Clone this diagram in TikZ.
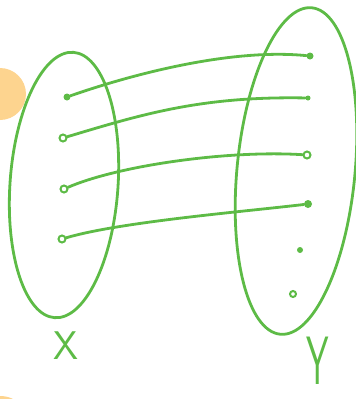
\documentclass[tikz,border=0pt]{standalone}
\usepackage{tikz}
\usetikzlibrary{arrows.meta,positioning}
\definecolor{inkgreen}{HTML}{5DBB46}
\definecolor{markorange}{HTML}{FDD48F}

\tikzset{
  dotfill/.style={circle, fill=inkgreen, inner sep=0pt, minimum size=7pt},
  dotring/.style={circle, draw=inkgreen, line width=2pt, inner sep=0pt, minimum size=7pt},
  wire/.style={line width=2.8pt, color=inkgreen, line cap=round},
  setlabel/.style={color=inkgreen, font=\sffamily\fontsize{40}{40}\selectfont, inner sep=0pt}
}

\begin{document}
\begin{tikzpicture}[x=1pt, y=-1pt]
  \useasboundingbox (0,0) rectangle (356,399);

  % Orange marks at the left edge
  \fill[markorange] (0,94) circle[radius=26];
  \fill[markorange] (0,426) circle[radius=30];

  % The two sets
  \draw[wire, rotate around={-4:(64,185)}] (64,185) ellipse [x radius=54, y radius=133];
  \draw[wire, rotate around={-5.5:(296,171)}] (296,171) ellipse [x radius=59, y radius=164];

  % Elements of X
  \node[dotfill] (x1) at (67,97) {};
  \node[dotring] (x2) at (63,138) {};
  \node[dotring] (x3) at (64,189) {};
  \node[dotring] (x4) at (62,239) {};

  % Elements of Y
  \node[dotfill] (y1) at (310,56) {};
  \node[dotfill, minimum size=5pt] (y2) at (308,98) {};
  \node[dotring] (y3) at (307,155) {};
  \node[dotfill, minimum size=8pt] (y4) at (308,204) {};
  \node[dotfill, minimum size=6pt] (y5) at (300,250) {};
  \node[dotring, minimum size=6pt] (y6) at (293,294) {};

  % Mapping
  \draw[wire] (x1) .. controls (130,75) and (230,48) .. (y1);
  \draw[wire] (x2) .. controls (140,115) and (200,96) .. (y2);
  \draw[wire] (x3) .. controls (120,165) and (230,150) .. (y3);
  \draw[wire] (x4) .. controls (120,222) and (240,212) .. (y4);

  % Labels
  \node[setlabel] (labx) at (66,346) {X};
  \node[setlabel, font=\sffamily\fontsize{36}{36}\selectfont, yscale=1.9] (laby) at (318,361) {Y};
\end{tikzpicture}
\end{document}
